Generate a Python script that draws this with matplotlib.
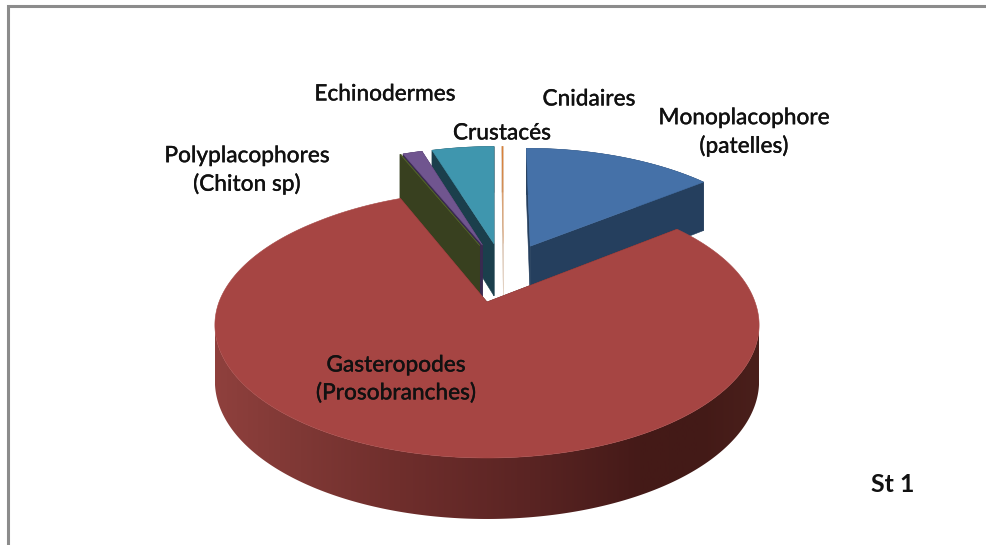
import numpy as np
import matplotlib
matplotlib.use("Agg")
import matplotlib.pyplot as plt
import matplotlib.patheffects as pe
from matplotlib.colors import LinearSegmentedColormap
from matplotlib.patches import Polygon

plt.rcParams['font.family'] = ['Lato', 'DejaVu Sans']

# parts of the pie in percent, clockwise from 12 o'clock
names = ['Monoplacophore', 'Gasteropodes', 'Polyplacophores', 'Echinodermes', 'Crustacés', 'Cnidaires']
values = [14.25, 79.5, 0.05, 1.45, 4.66, 0.09]
top_colors = ['#4571a8', '#a64543', '#4f5f2a', '#70558f', '#3f96ae', '#d9813a']
wall_colors = ['#253f5e', '#5c2523', '#38401f', '#3a2a50', '#1b3f4c', '#c9a98c']

label_texts = ['Monoplacophore\n(patelles)', 'Gasteropodes\n(Prosobranches)', 'Polyplacophores\n(Chiton sp)',
               'Echinodermes', 'Crustacés', 'Cnidaires']
label_x = [744, 396, 247, 385, 502, 589]
label_y = [132, 379, 170, 94, 133, 99]

# shading of the red rim from left to right
rim_x = [215, 300, 400, 530, 640, 700, 759]
rim_colors = ['#8f403d', '#7f3835', '#6f2e2c', '#5a2423', '#451a18', '#431a17', '#4a1f1b']

# perspective of the pie, pixels, origin on the tip of the red slice
tip_x, tip_y = 487, 302
scale_x, scale_y, persp = 268, 129, 0.173
slant = 2.0
lift = 3.5
explode = 0.25


def project(u, v):
    w = 1 - persp * v
    px = tip_x + scale_x * u / w + slant * np.clip(-v, 0, None)
    py = tip_y + scale_y * v / w - lift * np.clip(-v - 0.7, 0, None)
    return px, py


def depth(v):
    return 55 + 6 * v


def slice_points(start, end, cu, cv):
    steps = max(2, int(end - start) * 2)
    th = np.radians(np.linspace(start, end, steps))
    return cu + np.sin(th), cv - np.cos(th)


fig = plt.figure(figsize=(9.87, 5.45), dpi=100)
ax = fig.add_axes([0, 0, 1, 1])

# grey frame, top and left only
ax.plot([8, 8, 987], [545, 6, 6], color='#8c8c8c', lw=2.2, solid_joinstyle='miter')

angles = np.cumsum([0] + values) / sum(values) * 360
mids = (angles[:-1] + angles[1:]) / 2

# centre of the whole pie, found from the red slice being pulled out
red = names.index('Gasteropodes')
center_u = -explode * np.sin(np.radians(mids[red]))
center_v = explode * np.cos(np.radians(mids[red]))

rim_cmap = LinearSegmentedColormap.from_list(
    'rim', [((p - rim_x[0]) / (rim_x[-1] - rim_x[0]), c) for p, c in zip(rim_x, rim_colors)])

# back to front, red is the last one
for i in [5, 4, 3, 2, 0, 1]:
    start, end = angles[i], angles[i + 1]
    cu = center_u + explode * np.sin(np.radians(mids[i]))
    cv = center_v - explode * np.cos(np.radians(mids[i]))
    u, v = slice_points(start, end, cu, cv)
    x, y = project(u, v)
    ax_tip, ay_tip = project(cu, cv)
    d_tip = depth(cv)
    lw = 0.1 if i == 5 else 0.4

    # side walls from the tip out to both ends of the arc
    for k in [0, -1]:
        ax.fill([ax_tip, x[k], x[k], ax_tip], [ay_tip, y[k], y[k] + depth(v[k]), ay_tip + d_tip],
                color=wall_colors[i], lw=lw)

    # outer rim
    if i == red:
        # only the front part between the two widest points, else the outline crosses itself
        a, b = np.argmax(x), np.argmin(x) + 1
        rim_xs = np.r_[x[a:b], x[a:b][::-1]]
        rim_ys = np.r_[y[a:b], (y[a:b] + depth(v[a:b]))[::-1]]
        outline = Polygon(np.c_[rim_xs, rim_ys], closed=True, transform=ax.transData, fc='none', ec='none')
        ax.add_patch(outline)
        img = ax.imshow(np.linspace(0, 1, 256)[None, :], cmap=rim_cmap, aspect='auto',
                        extent=[rim_x[0], rim_x[-1], 545, 0], interpolation='bilinear')
        img.set_clip_path(outline)
    else:
        ax.fill(np.r_[x, x[::-1]], np.r_[y, (y + depth(v))[::-1]], color=wall_colors[i], lw=lw)

    ax.fill(np.r_[ax_tip, x], np.r_[ay_tip, y], color=top_colors[i], lw=lw)

ax.set_xlim(0, 987)
ax.set_ylim(545, 0)
ax.axis('off')

thick = [pe.withStroke(linewidth=0.15, foreground='#111111')]
for i in range(len(names)):
    ax.text(label_x[i], label_y[i], label_texts[i], ha='center', va='center', fontsize=16.3,
            fontweight='medium', color='#111111', linespacing=1.36, path_effects=thick)

ax.text(893, 484, 'St 1', ha='center', va='center', fontsize=18, fontweight='bold', color='#111111')

fig.savefig('out.png', dpi=100)
